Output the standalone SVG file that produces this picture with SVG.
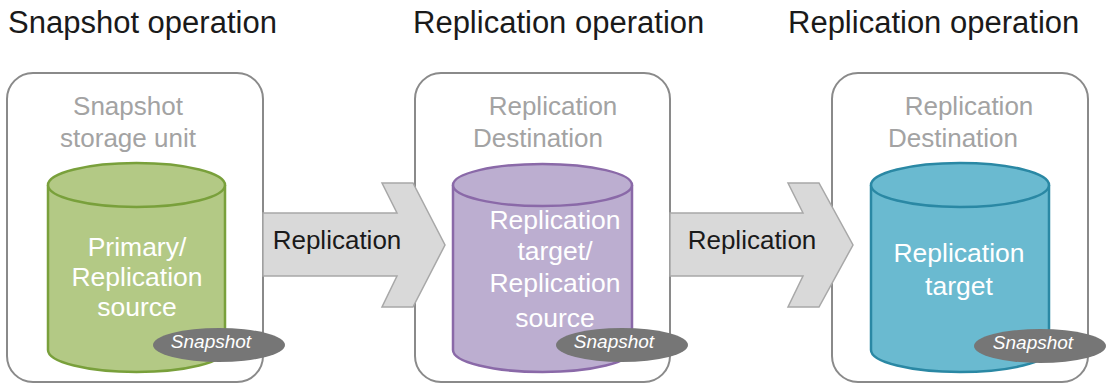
<svg xmlns="http://www.w3.org/2000/svg" width="1108" height="385" viewBox="0 0 1108 385">
<style>
.title{font-family:"Liberation Sans",Arial,sans-serif;font-size:31px;fill:#1a1a1a}
.box{fill:#fff;stroke:#8a8a8a;stroke-width:2}
.blabel{font-family:"Liberation Sans",Arial,sans-serif;font-size:26px;fill:#a3a3a3;text-anchor:middle}
.clabel{font-family:"Liberation Sans",Arial,sans-serif;font-size:26.5px;fill:#fff;text-anchor:middle}
.arrow{fill:#d9d9d9;stroke:#a8a8a8;stroke-width:1.5}
.alabel{font-family:"Liberation Sans",Arial,sans-serif;font-size:26px;fill:#1a1a1a;text-anchor:middle}
.snap{fill:#767676}
.slabel{font-family:"Liberation Sans",Arial,sans-serif;font-size:19px;font-style:italic;fill:#fff;text-anchor:middle}
.green{fill:#b3c985;stroke:#79a03b;stroke-width:2.5}
.purple{fill:#bcaed0;stroke:#8a69a8;stroke-width:2.5}
.blue{fill:#6abad0;stroke:#2a88a4;stroke-width:2.5}
</style>
<rect width="1108" height="385" fill="#fff"/>
<text class="title" x="8" y="33">Snapshot operation</text>
<text class="title" x="413" y="33">Replication operation</text>
<text class="title" x="788" y="33">Replication operation</text>

<g id="node1">
<rect class="box" x="7" y="73" width="256" height="309" rx="26"/>
<text class="blabel" x="128" y="115">Snapshot</text>
<text class="blabel" x="128" y="147">storage unit</text>
<path class="green" d="M48,185 L48,350 A88.5,22 0 0 0 225,350 L225,185"/>
<ellipse class="green" cx="136.5" cy="185" rx="88.5" ry="22"/>
<text class="clabel" x="137" y="256">Primary/</text>
<text class="clabel" x="137" y="286">Replication</text>
<text class="clabel" x="137" y="316">source</text>
<ellipse class="snap" cx="219" cy="345" rx="66" ry="17"/>
<text class="slabel" x="211" y="348">Snapshot</text>
</g>

<g id="node2">
<rect class="box" x="415" y="73" width="255" height="309" rx="26"/>
<text class="blabel" x="553" y="115">Replication</text>
<text class="blabel" x="538" y="147">Destination</text>
<path class="purple" d="M453,185 L453,350 A89.5,22 0 0 0 632,350 L632,185"/>
<ellipse class="purple" cx="542.5" cy="185" rx="89.5" ry="21"/>
<text class="clabel" x="555" y="229">Replication</text>
<text class="clabel" x="555" y="260">target/</text>
<text class="clabel" x="555" y="292">Replication</text>
<text class="clabel" x="555" y="327">source</text>
<ellipse class="snap" cx="622" cy="345" rx="66" ry="17"/>
<text class="slabel" x="614" y="348">Snapshot</text>
</g>

<g id="node3">
<rect class="box" x="832" y="73" width="256" height="309" rx="26"/>
<text class="blabel" x="969" y="115">Replication</text>
<text class="blabel" x="953" y="147">Destination</text>
<path class="blue" d="M871,185 L871,350 A89,22 0 0 0 1049,350 L1049,185"/>
<ellipse class="blue" cx="960" cy="185" rx="89" ry="22"/>
<text class="clabel" x="959" y="262">Replication</text>
<text class="clabel" x="959" y="295">target</text>
<ellipse class="snap" cx="1040" cy="346" rx="66" ry="17"/>
<text class="slabel" x="1033" y="349">Snapshot</text>
</g>

<g id="connectors">
<path class="arrow" d="M263,213 L397,213 L382,183 L413,183 L445,245 L413,307 L382,307 L397,276 L263,276 Z"/>
<text class="alabel" x="337" y="249">Replication</text>
<path class="arrow" d="M670,213 L803,213 L788,183 L819,183 L853,245 L819,307 L788,307 L803,276 L670,276 Z"/>
<text class="alabel" x="752" y="249">Replication</text>
</g>
</svg>
